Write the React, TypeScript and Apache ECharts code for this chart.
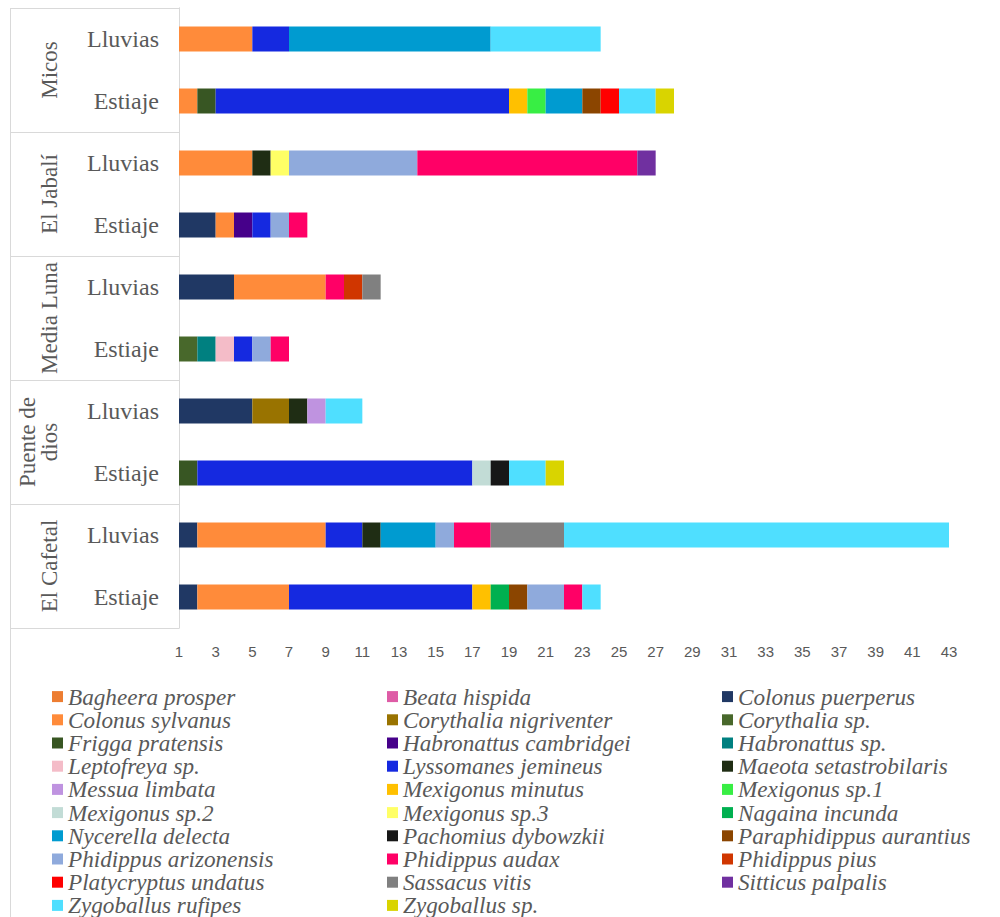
import React, { useEffect, useRef } from "react";
import * as echarts from "echarts";

const sites = ["Micos", "El Jabalí", "Media Luna", "Puente de\ndios", "El Cafetal"];
const seasons = ["Lluvias", "Estiaje"];
const xTickLabelOffset = 1; // axis labels read 1, 3, 5 ... 43

const species = [
  "Bagheera prosper", "Beata hispida", "Colonus puerperus",
  "Colonus sylvanus", "Corythalia nigriventer", "Corythalia sp.",
  "Frigga pratensis", "Habronattus cambridgei", "Habronattus sp.",
  "Leptofreya sp.", "Lyssomanes jemineus", "Maeota setastrobilaris",
  "Messua limbata", "Mexigonus minutus", "Mexigonus sp.1",
  "Mexigonus sp.2", "Mexigonus sp.3", "Nagaina incunda",
  "Nycerella delecta", "Pachomius dybowzkii", "Paraphidippus aurantius",
  "Phidippus arizonensis", "Phidippus audax", "Phidippus pius",
  "Platycryptus undatus", "Sassacus vitis", "Sitticus palpalis",
  "Zygoballus rufipes", "Zygoballus sp.",
];

const colors = [
  "#ED7D31", "#DE5CA6", "#203864",
  "#FF8B3A", "#997300", "#48682B",
  "#385623", "#46008A", "#008080",
  "#F4BCC8", "#1529E0", "#1F2D14",
  "#BF93E0", "#FFC000", "#38EE44",
  "#C2DCD6", "#FFFF66", "#00B050",
  "#009BD0", "#171717", "#8B4500",
  "#8FAADC", "#FF0066", "#D03600",
  "#FF0000", "#808080", "#7030A0",
  "#4FDFFF", "#D9D400",
];

// Row order: Micos L, Micos E, Jabalí L, Jabalí E, Media Luna L, Media Luna E,
// Puente L, Puente E, Cafetal L, Cafetal E
const bagheeraProsper = [0, 0, 0, 0, 0, 0, 0, 0, 0, 0];
const beataHispida = [0, 0, 0, 0, 0, 0, 0, 0, 0, 0];
const colonusPuerperus = [0, 0, 0, 2, 3, 0, 4, 0, 1, 1];
const colonusSylvanus = [4, 1, 4, 1, 5, 0, 0, 0, 7, 5];
const corythaliaNigriventer = [0, 0, 0, 0, 0, 0, 2, 0, 0, 0];
const corythaliaSp = [0, 0, 0, 0, 0, 1, 0, 0, 0, 0];
const friggaPratensis = [0, 1, 0, 0, 0, 0, 0, 1, 0, 0];
const habronattusCambridgei = [0, 0, 0, 1, 0, 0, 0, 0, 0, 0];
const habronattusSp = [0, 0, 0, 0, 0, 1, 0, 0, 0, 0];
const leptofreyaSp = [0, 0, 0, 0, 0, 1, 0, 0, 0, 0];
const lyssomanesJemineus = [2, 16, 0, 1, 0, 1, 0, 15, 2, 10];
const maeotaSetastrobilaris = [0, 0, 1, 0, 0, 0, 1, 0, 1, 0];
const messuaLimbata = [0, 0, 0, 0, 0, 0, 1, 0, 0, 0];
const mexigonusMinutus = [0, 1, 0, 0, 0, 0, 0, 0, 0, 1];
const mexigonusSp1 = [0, 1, 0, 0, 0, 0, 0, 0, 0, 0];
const mexigonusSp2 = [0, 0, 0, 0, 0, 0, 0, 1, 0, 0];
const mexigonusSp3 = [0, 0, 1, 0, 0, 0, 0, 0, 0, 0];
const nagainaIncunda = [0, 0, 0, 0, 0, 0, 0, 0, 0, 1];
const nycerellaDelecta = [11, 2, 0, 0, 0, 0, 0, 0, 3, 0];
const pachomiusDybowzkii = [0, 0, 0, 0, 0, 0, 0, 1, 0, 0];
const paraphidippusAurantius = [0, 1, 0, 0, 0, 0, 0, 0, 0, 1];
const phidippusArizonensis = [0, 0, 7, 1, 0, 1, 0, 0, 1, 2];
const phidippusAudax = [0, 0, 12, 1, 1, 1, 0, 0, 2, 1];
const phidippusPius = [0, 0, 0, 0, 1, 0, 0, 0, 0, 0];
const platycryptusUndatus = [0, 1, 0, 0, 0, 0, 0, 0, 0, 0];
const sassacusVitis = [0, 0, 0, 0, 1, 0, 0, 0, 4, 0];
const sitticusPalpalis = [0, 0, 1, 0, 0, 0, 0, 0, 0, 0];
const zygoballusRufipes = [6, 2, 0, 0, 0, 0, 2, 2, 21, 1];
const zygoballusSp = [0, 1, 0, 0, 0, 0, 0, 1, 0, 0];

const seriesValues = [
  bagheeraProsper, beataHispida, colonusPuerperus,
  colonusSylvanus, corythaliaNigriventer, corythaliaSp,
  friggaPratensis, habronattusCambridgei, habronattusSp,
  leptofreyaSp, lyssomanesJemineus, maeotaSetastrobilaris,
  messuaLimbata, mexigonusMinutus, mexigonusSp1,
  mexigonusSp2, mexigonusSp3, nagainaIncunda,
  nycerellaDelecta, pachomiusDybowzkii, paraphidippusAurantius,
  phidippusArizonensis, phidippusAudax, phidippusPius,
  platycryptusUndatus, sassacusVitis, sitticusPalpalis,
  zygoballusRufipes, zygoballusSp,
];

const rowKeys: string[] = [];
sites.forEach((s) => seasons.forEach((se) => rowKeys.push(s + "|" + se)));

export default function App() {
  const ref = useRef<HTMLDivElement>(null);
  useEffect(() => {
    document.body.style.margin = "0";
    if (!ref.current) return;
    const chart = echarts.init(ref.current, null, { renderer: "svg" });
    const textColor = "#595959";
    const serif = "'Liberation Serif', 'Times New Roman', serif";
    chart.setOption({
      animation: false,
      color: colors,
      grid: {
        left: 179,
        right: 51,
        top: 8,
        bottom: 289,
        containLabel: false,
        outerBoundsMode: "none",
      },
      legend: {
        data: species.map((name, i) => ({
          name,
          textStyle: { width: i % 3 === 2 ? 250 : 319 },
        })),
        left: 52,
        top: 685,
        width: 948,
        padding: 0,
        itemGap: 0,
        itemWidth: 11,
        itemHeight: 11,
        icon: "rect",
        orient: "horizontal",
        textStyle: {
          color: textColor,
          fontFamily: serif,
          fontStyle: "italic",
          fontSize: 23.2,
          lineHeight: 23.2,
          overflow: "none",
        },
      },
      xAxis: {
        type: "value",
        min: 0,
        max: 42,
        interval: 2,
        axisLine: { show: false },
        axisTick: { show: false },
        splitLine: { show: false },
        axisLabel: {
          color: textColor,
          fontFamily: "'Liberation Sans Narrow', 'Liberation Sans', sans-serif",
          fontSize: 15,
          margin: 16,
          formatter: (v: number) => String(v + xTickLabelOffset),
        },
      },
      yAxis: [
        {
          type: "category",
          data: rowKeys,
          inverse: true,
          position: "left",
          axisLine: { show: true, lineStyle: { color: "#D9D9D9", width: 1 } },
          axisTick: { show: false },
          axisLabel: {
            interval: 0,
            color: textColor,
            fontFamily: serif,
            fontSize: 24,
            margin: 20,
            formatter: (v: string) => v.split("|")[1],
          },
        },
        {
          type: "category",
          data: sites,
          inverse: true,
          position: "left",
          axisLine: { show: true, lineStyle: { color: "#D9D9D9", width: 1 } },
          axisTick: {
            show: true,
            interval: 0,
            length: 168,
            lineStyle: { color: "#D9D9D9", width: 1 },
          },
          axisLabel: {
            interval: 0,
            color: textColor,
            fontFamily: serif,
            fontSize: 23,
            lineHeight: 22,
            rotate: 90,
            margin: 119,
          },
        },
      ],
      graphic: [
        {
          type: "line",
          shape: { x1: 10.5, y1: 8, x2: 10.5, y2: 917 },
          style: { stroke: "#D9D9D9", lineWidth: 1 },
          silent: true,
        },
      ],
      series: species.map((name, i) => ({
        name,
        type: "bar",
        stack: "total",
        yAxisIndex: 0,
        barWidth: 25,
        data: seriesValues[i],
        itemStyle: { color: colors[i] },
      })),
    });
    return () => chart.dispose();
  }, []);
  return <div ref={ref} style={{ width: 1000, height: 917 }} />;
}
